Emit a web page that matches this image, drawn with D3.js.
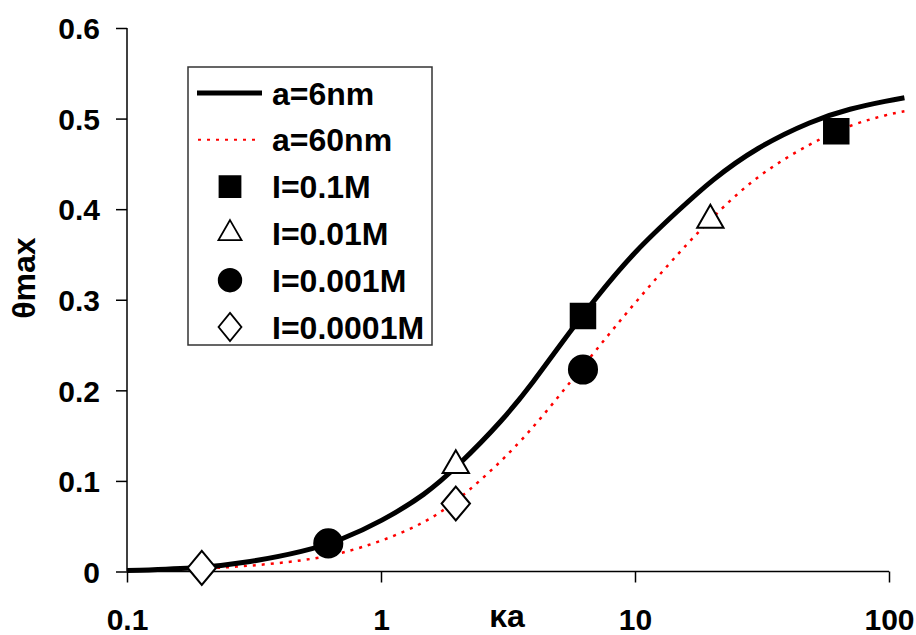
<!DOCTYPE html>
<html>
<head>
<meta charset="utf-8">
<script src="https://cdn.jsdelivr.net/npm/d3@7"></script>
<style>
    body { margin: 0; background: #fff; }
    svg { display: block; font-family: "Liberation Sans", Arial, sans-serif; font-weight: bold; }
</style>
</head>
<body>
<svg class="main-chart" width="916" height="635"></svg>
<script>
// theory curves
const kaCurve = [0.1, 0.2, 0.3, 0.5, 0.7, 1, 1.5, 2, 3, 4, 5, 7, 10, 15, 20, 30, 50, 70, 100, 115]
const theta6nm = [0.001, 0.004, 0.010, 0.022, 0.035, 0.055, 0.085, 0.116, 0.166, 0.210, 0.248, 0.302, 0.354, 0.400, 0.432, 0.468, 0.498, 0.511, 0.520, 0.523]
const theta60nm = [0.001, 0.003, 0.006, 0.012, 0.020, 0.033, 0.054, 0.078, 0.122, 0.160, 0.193, 0.244, 0.297, 0.353, 0.390, 0.437, 0.474, 0.493, 0.505, 0.508]

// measured points: [ka, theta] per ionic strength
const pts01 = [[6.24, 0.282], [62, 0.486]]
const pts001 = [[1.97, 0.117], [19.8, 0.388]]
const pts0001 = [[0.62, 0.031], [6.24, 0.223]]
const pts00001 = [[0.197, 0.004], [1.97, 0.075]]

const xTicks = [0.1, 1, 10, 100]
const yTicks = [0, 0.1, 0.2, 0.3, 0.4, 0.5, 0.6]

const svg = d3.select('.main-chart')

const x = d3.scaleLog().domain([0.1, 100]).range([127, 889])
const y = d3.scaleLinear().domain([0, 0.6]).range([571.5, 28])

// axes
const xAxis = svg.append('g')
    .attr('transform', 'translate(0,' + y(0) + ')')
    .call(d3.axisBottom(x).tickValues(xTicks).tickSize(11).tickFormat(d => String(d)))
xAxis.select('.domain').attr('stroke-width', 1.5).attr('d', 'M' + x(0.1) + ',0H' + x(100))
xAxis.selectAll('.tick line').attr('stroke-width', 1.5)
xAxis.selectAll('.tick text')
    .attr('y', 58).attr('dy', 0)
    .attr('font-size', 30).attr('font-family', '"Liberation Sans", Arial, sans-serif').attr('font-weight', 'bold')

const yAxis = svg.append('g')
    .attr('transform', 'translate(' + x(0.1) + ',0)')
    .call(d3.axisLeft(y).tickValues(yTicks).tickSize(11).tickFormat(d => d === 0 ? '0' : d3.format('.1f')(d)))
yAxis.select('.domain').attr('stroke-width', 1.5).attr('d', 'M0,' + y(0.6) + 'V' + y(0))
yAxis.selectAll('.tick line').attr('stroke-width', 1.5)
yAxis.selectAll('.tick text')
    .attr('x', -27).attr('dy', '0.36em')
    .attr('font-size', 30).attr('font-family', '"Liberation Sans", Arial, sans-serif').attr('font-weight', 'bold')

// axis titles
svg.append('text')
    .attr('x', 507).attr('y', 627)
    .attr('text-anchor', 'middle')
    .attr('font-size', 32)
    .text('κa')

svg.append('text')
    .attr('transform', 'translate(35,278) rotate(-90)')
    .attr('text-anchor', 'middle')
    .attr('font-size', 32)
    .text('θmax')

// curves
const line = d3.line()
    .x(d => x(d[0]))
    .y(d => y(d[1]))
    .curve(d3.curveBasis)

svg.append('path')
    .datum(kaCurve.map((k, i) => [k, theta60nm[i]]))
    .attr('d', line)
    .attr('fill', 'none')
    .attr('stroke', '#ff0000')
    .attr('stroke-width', 2.5)
    .attr('stroke-dasharray', '3,6')

svg.append('path')
    .datum(kaCurve.map((k, i) => [k, theta6nm[i]]))
    .attr('d', line)
    .attr('fill', 'none')
    .attr('stroke', '#000')
    .attr('stroke-width', 5)

// markers
const markers = [
    { data: pts01, type: d3.symbolSquare, size: 600, fill: '#000' },
    { data: pts001, type: d3.symbolTriangle, size: 300, fill: '#fff' },
    { data: pts0001, type: d3.symbolCircle, size: 620, fill: '#000' },
    { data: pts00001, type: d3.symbolDiamond, size: 330, fill: '#fff' }
]

markers.forEach(m => {
    svg.append('g').selectAll('path')
        .data(m.data)
        .enter().append('path')
        .attr('transform', d => 'translate(' + x(d[0]) + ',' + y(d[1]) + ')' + (m.type === d3.symbolDiamond ? ' scale(1.45,1)' : ''))
        .attr('d', d3.symbol().type(m.type).size(m.size))
        .attr('fill', m.fill)
        .attr('stroke', '#000')
        .attr('stroke-width', m.type === d3.symbolDiamond ? 1.6 : 2)
})

// legend
const legend = svg.append('g')
legend.append('rect')
    .attr('x', 188).attr('y', 67)
    .attr('width', 244).attr('height', 278)
    .attr('fill', '#fff')
    .attr('stroke', '#333')
    .attr('stroke-width', 1.5)

const legendLabels = ['a=6nm', 'a=60nm', 'I=0.1M', 'I=0.01M', 'I=0.001M', 'I=0.0001M']
const rowY = i => 93 + i * 46.8

legend.append('line')
    .attr('x1', 197).attr('x2', 262).attr('y1', rowY(0)).attr('y2', rowY(0))
    .attr('stroke', '#000').attr('stroke-width', 5)
legend.append('line')
    .attr('x1', 198).attr('x2', 258).attr('y1', rowY(1)).attr('y2', rowY(1))
    .attr('stroke', '#ff0000').attr('stroke-width', 2).attr('stroke-dasharray', '3,6')

markers.forEach((m, i) => {
    const s = m.type === d3.symbolSquare ? 440 : m.type === d3.symbolCircle ? 400 : 230
    legend.append('path')
        .attr('transform', 'translate(230,' + rowY(i + 2) + ')' + (m.type === d3.symbolDiamond ? ' scale(1.4,1)' : ''))
        .attr('d', d3.symbol().type(m.type).size(s))
        .attr('fill', m.fill)
        .attr('stroke', '#000')
        .attr('stroke-width', m.type === d3.symbolDiamond ? 1.5 : 1.8)
})

legend.selectAll('text')
    .data(legendLabels)
    .enter().append('text')
    .attr('x', 272)
    .attr('y', (d, i) => rowY(i))
    .attr('dy', '0.36em')
    .attr('font-size', 32)
    .text(d => d)
</script>
</body>
</html>
